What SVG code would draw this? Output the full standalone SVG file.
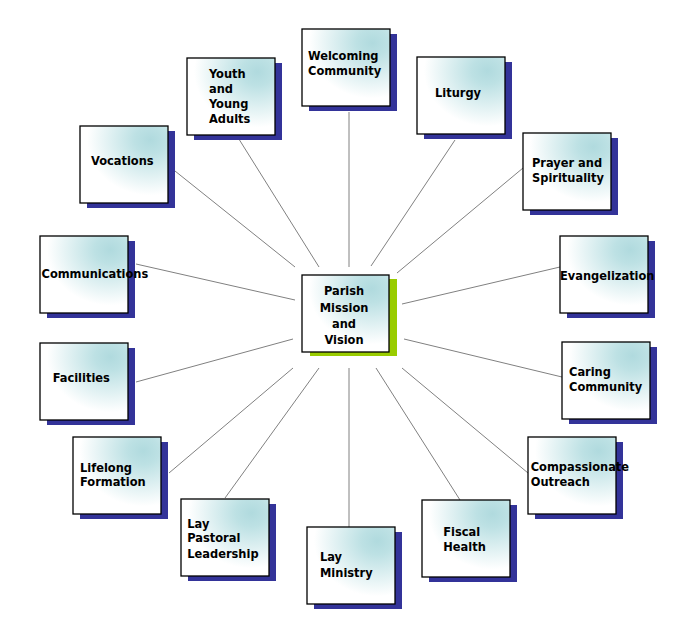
<svg xmlns="http://www.w3.org/2000/svg" width="699" height="639" viewBox="0 0 699 639">
<defs>
<radialGradient id="g" cx="0.8" cy="0.18" r="0.9" fx="0.8" fy="0.18">
<stop offset="0" stop-color="#b0dade"/>
<stop offset="0.2" stop-color="#bde1e4"/>
<stop offset="0.8" stop-color="#ffffff"/>
</radialGradient>
<style>
.sh{fill:#333399}
.shg{fill:#99cc00}
.bx{fill:url(#g);stroke:#000;stroke-width:1.3}
.t{font-family:"DejaVu Sans Condensed","DejaVu Sans",sans-serif;font-weight:bold;font-size:12.7px;fill:#000}
.c{text-anchor:middle}
#connectors line{stroke:#808080;stroke-width:1}
</style>
</defs>
<rect width="699" height="639" fill="#fff"/>
<g id="connectors">
<line x1="349" y1="112" x2="349" y2="267"/>
<line x1="237" y1="136" x2="319" y2="267"/>
<line x1="455" y1="140" x2="371" y2="266"/>
<line x1="523" y1="168" x2="397" y2="273"/>
<line x1="175" y1="171" x2="295" y2="267"/>
<line x1="136" y1="264" x2="295" y2="300"/>
<line x1="560" y1="267" x2="402" y2="304"/>
<line x1="136" y1="382" x2="293" y2="339"/>
<line x1="562" y1="377" x2="404" y2="339"/>
<line x1="169" y1="473" x2="293" y2="368"/>
<line x1="225" y1="498" x2="319" y2="368"/>
<line x1="349" y1="527" x2="349" y2="368"/>
<line x1="460" y1="500" x2="376" y2="368"/>
<line x1="528" y1="473" x2="402" y2="368"/>
</g>
<g id="welcoming"><rect class="sh" x="309" y="34" width="88" height="77"/><rect class="bx" x="302" y="29" width="88" height="77"/><text class="t" x="308" y="59.5">Welcoming</text><text class="t" x="308" y="75">Community</text></g>
<g id="youth"><rect class="sh" x="194" y="63" width="88" height="77"/><rect class="bx" x="187" y="58" width="88" height="77"/><text class="t" x="209" y="78">Youth</text><text class="t" x="209" y="93">and</text><text class="t" x="209" y="108">Young</text><text class="t" x="209" y="123">Adults</text></g>
<g id="liturgy"><rect class="sh" x="424" y="62" width="88" height="77"/><rect class="bx" x="417" y="57" width="88" height="77"/><text class="t" x="435" y="96.5">Liturgy</text></g>
<g id="prayer"><rect class="sh" x="530" y="138" width="88" height="77"/><rect class="bx" x="523" y="133" width="88" height="77"/><text class="t" x="532" y="167">Prayer and</text><text class="t" x="532" y="182">Spirituality</text></g>
<g id="vocations"><rect class="sh" x="87" y="131" width="88" height="77"/><rect class="bx" x="80" y="126" width="88" height="77"/><text class="t" x="91" y="165">Vocations</text></g>
<g id="communications"><rect class="sh" x="47" y="241" width="88" height="77"/><rect class="bx" x="40" y="236" width="88" height="77"/><text class="t" x="41.5" y="277.5">Communications</text></g>
<g id="evangelization"><rect class="sh" x="567" y="241" width="88" height="77"/><rect class="bx" x="560" y="236" width="88" height="77"/><text class="t" x="560" y="280">Evangelization</text></g>
<g id="facilities"><rect class="sh" x="47" y="348" width="88" height="77"/><rect class="bx" x="40" y="343" width="88" height="77"/><text class="t" x="52.7" y="381.5">Facilities</text></g>
<g id="caring"><rect class="sh" x="569" y="347" width="88" height="77"/><rect class="bx" x="562" y="342" width="88" height="77"/><text class="t" x="569" y="376">Caring</text><text class="t" x="569" y="391">Community</text></g>
<g id="compassionate"><rect class="sh" x="535" y="442" width="88" height="77"/><rect class="bx" x="528" y="437" width="88" height="77"/><text class="t" x="530.7" y="470.5">Compassionate</text><text class="t" x="530.7" y="485.5">Outreach</text></g>
<g id="lifelong"><rect class="sh" x="80" y="442" width="88" height="77"/><rect class="bx" x="73" y="437" width="88" height="77"/><text class="t" x="80" y="471.5">Lifelong</text><text class="t" x="80" y="486">Formation</text></g>
<g id="laypastoral"><rect class="sh" x="188" y="504" width="88" height="77"/><rect class="bx" x="181" y="499" width="88" height="77"/><text class="t" x="187.3" y="527.5">Lay</text><text class="t" x="187.3" y="542">Pastoral</text><text class="t" x="187.3" y="557.5">Leadership</text></g>
<g id="fiscal"><rect class="sh" x="429" y="505" width="88" height="77"/><rect class="bx" x="422" y="500" width="88" height="77"/><text class="t" x="443.3" y="535.5">Fiscal</text><text class="t" x="443.3" y="551">Health</text></g>
<g id="layministry"><rect class="sh" x="314" y="532" width="88" height="77"/><rect class="bx" x="307" y="527" width="88" height="77"/><text class="t" x="320" y="561">Lay</text><text class="t" x="320" y="576.5">Ministry</text></g>
<g id="center"><rect class="shg" x="310" y="279" width="87" height="77"/><rect class="bx" x="302" y="275" width="87" height="77"/><text class="t c" x="344" y="295">Parish</text><text class="t c" x="344" y="311.5">Mission</text><text class="t c" x="344" y="327.5">and</text><text class="t c" x="344" y="344">Vision</text></g>
</svg>
